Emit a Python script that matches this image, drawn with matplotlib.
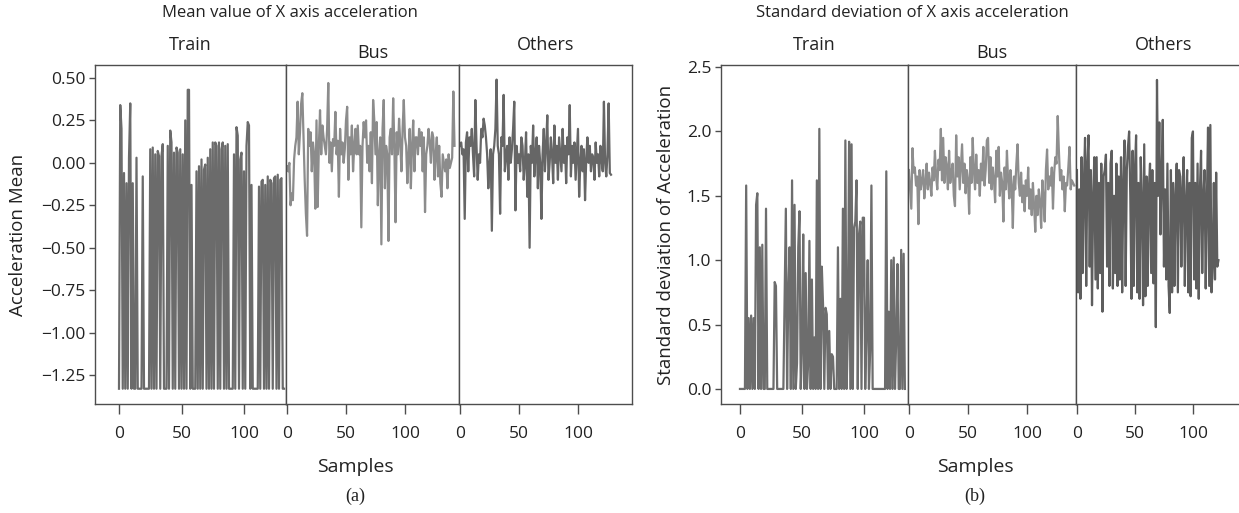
import numpy as np
import matplotlib
matplotlib.use("Agg")
import matplotlib.pyplot as plt

# ------------------------------
# Data
# ------------------------------
groups = ["Train", "Bus", "Others"]
x_ticks = [0, 50, 100]

# (a) mean value of X axis acceleration
train_mean = [
    -1.33, 0.34, 0.20, -1.33, -0.06, -1.33, -0.12, -1.33, 0.03, 0.35,
    -1.33, -0.12, -1.33, -1.33, 0.03, -1.33, -1.33, -1.33, -1.33, -0.08,
    -1.33, -1.33, -1.33, -1.33, -1.33, 0.08, -1.33, 0.09, -1.33, 0.05,
    -1.33, 0.07, 0.04, -1.33, 0.04, 0.11, -1.33, -1.33, -1.33, 0.10,
    -1.33, 0.19, 0.12, -1.33, 0.06, -1.33, 0.09, 0.06, -1.33, 0.08,
    -1.33, 0.05, -1.33, 0.25, -1.33, 0.43, 0.43, -1.33, -0.13, -1.33,
    -1.33, -1.33, -0.05, -1.33, -0.02, -1.33, 0.02, -1.33, -0.04, -0.01,
    -1.33, 0.03, -1.33, 0.08, -1.33, 0.12, -1.33, 0.12, 0.10, -1.33,
    0.12, -1.33, 0.08, 0.12, -1.33, 0.10, -1.33, 0.11, -1.33, -1.33,
    -1.33, -1.33, 0.05, -1.33, 0.21, 0.16, -1.33, 0.02, 0.06, -1.33,
    -0.05, -1.33, 0.10, 0.24, 0.22, -1.33, -0.13, -1.33, -1.33, -1.33,
    -1.33, -1.33, -0.14, -1.33, -0.11, -0.10, -1.33, -0.13, -1.33, -0.08,
    -1.33, -0.10, -0.12, -1.33, -0.09, -0.08, -1.33, -0.07, -1.33, -0.10,
    -0.09, -1.33, -1.33,
]
bus_mean = [
    -0.02, -0.05, 0.00, -0.25, -0.18, -0.22, 0.02, 0.10, 0.15, 0.36,
    0.05, 0.18, 0.35, 0.41, 0.15, -0.10, -0.30, -0.43, 0.20, 0.10,
    0.18, -0.05, 0.12, 0.05, -0.27, 0.25, -0.26, 0.10, 0.31, 0.05,
    0.22, 0.15, 0.10, 0.05, 0.20, 0.47, 0.00, 0.12, -0.05, 0.14,
    0.10, 0.30, 0.05, 0.13, -0.20, 0.20, 0.05, 0.12, 0.00, 0.08,
    0.25, 0.33, -0.10, 0.15, 0.05, 0.22, -0.05, 0.10, 0.20, 0.05,
    0.22, 0.05, 0.10, -0.38, 0.10, 0.24, 0.15, 0.25, 0.00, 0.10,
    -0.05, 0.18, -0.12, 0.37, 0.25, 0.05, 0.24, -0.25, 0.05, 0.15,
    -0.48, 0.20, 0.37, -0.15, 0.10, 0.05, -0.46, 0.15, 0.20, 0.05,
    0.38, 0.10, -0.35, 0.18, 0.05, 0.26, 0.12, -0.05, 0.20, 0.37,
    0.15, 0.10, -0.12, 0.05, 0.20, -0.15, 0.10, 0.25, -0.05, 0.15,
    0.15, 0.05, 0.20, 0.10, 0.18, -0.05, 0.15, -0.29, 0.05, 0.10,
    0.20, 0.12, 0.00, 0.18, 0.15, -0.10, 0.05, 0.15, -0.08, 0.10,
    -0.12, -0.20, 0.05, 0.00, -0.05, 0.02, -0.15, 0.05, -0.03, 0.00,
    0.03, 0.42, 0.10,
]
others_mean = [
    0.10, 0.12, 0.05, 0.08, -0.33, 0.12, 0.18, -0.05, 0.15, 0.10,
    0.20, 0.05, -0.08, 0.37, 0.10, -0.10, 0.05, 0.00, 0.20, 0.15,
    0.26, 0.22, 0.15, 0.05, -0.15, 0.00, 0.08, -0.40, 0.05, 0.10,
    0.20, 0.49, 0.10, 0.05, -0.30, 0.15, 0.10, 0.40, -0.05, 0.05,
    0.10, -0.10, 0.15, 0.00, 0.08, 0.20, 0.36, -0.28, 0.10, 0.00,
    0.05, -0.05, 0.15, 0.10, -0.10, 0.00, 0.18, -0.20, 0.05, -0.50,
    0.10, 0.00, 0.22, -0.08, 0.05, 0.15, -0.15, 0.10, 0.00, -0.33,
    0.05, 0.20, -0.05, 0.10, 0.28, -0.10, 0.00, 0.15, 0.05, -0.12,
    0.22, 0.00, 0.10, -0.10, 0.15, 0.05, -0.05, 0.20, 0.00, 0.10,
    -0.12, 0.15, 0.05, 0.34, -0.08, 0.10, 0.00, 0.12, -0.10, 0.05,
    0.20, -0.20, 0.00, 0.10, -0.05, 0.08, -0.22, 0.02, 0.15, 0.00,
    0.10, -0.05, 0.05, 0.03, -0.10, 0.12, 0.00, 0.05, -0.08, 0.10,
    0.02, -0.05, 0.36, 0.00, -0.08, 0.05, 0.35, -0.06, -0.07,
]

# (b) standard deviation of X axis acceleration
train_std = [
    0.00, 0.00, 0.00, 0.00, 0.00, 1.58, 0.00, 0.55, 0.00, 0.57,
    0.00, 0.55, 0.00, 1.43, 1.52, 0.00, 1.10, 0.00, 1.12, 0.00,
    0.00, 1.40, 0.00, 0.00, 0.00, 0.00, 0.00, 0.00, 0.83, 0.80,
    0.00, 0.00, 0.00, 0.00, 0.00, 0.00, 0.70, 1.40, 0.00, 0.75,
    1.10, 0.00, 1.62, 0.00, 1.43, 0.00, 0.20, 1.10, 1.38, 0.00,
    0.30, 1.20, 0.00, 0.90, 0.00, 0.20, 1.15, 0.00, 0.85, 0.00,
    0.40, 0.00, 1.62, 0.00, 2.02, 0.00, 0.95, 0.65, 0.00, 0.63,
    0.58, 0.00, 0.45, 0.00, 0.27, 0.25, 0.00, 0.00, 0.00, 1.10,
    0.00, 0.70, 0.00, 1.40, 0.00, 1.93, 0.00, 0.45, 1.92, 0.00,
    1.90, 0.00, 1.25, 1.30, 1.62, 0.00, 1.20, 1.30, 0.00, 1.33,
    1.33, 0.00, 0.45, 1.00, 0.00, 0.30, 1.58, 0.00, 0.00, 0.00,
    0.00, 0.00, 0.00, 0.00, 0.00, 0.00, 0.00, 0.00, 1.69, 0.00,
    0.60, 0.00, 1.00, 0.00, 1.02, 0.00, 0.40, 0.97, 0.00, 0.00,
    1.08, 0.00, 1.05, 0.00,
]
bus_std = [
    1.70, 1.55, 1.40, 1.87, 1.68, 1.72, 1.58, 1.65, 1.28, 1.70,
    1.55, 1.62, 1.70, 1.48, 1.60, 1.75, 1.55, 1.68, 1.60, 1.50,
    1.72, 1.62, 1.85, 1.65, 1.55, 1.78, 1.70, 2.02, 1.62, 1.95,
    1.60, 1.80, 1.73, 1.55, 1.85, 1.60, 1.68, 1.75, 1.50, 1.42,
    1.97, 1.65, 1.80, 1.55, 1.72, 1.90, 1.60, 1.75, 1.52, 1.70,
    1.62, 1.36, 1.80, 1.60, 1.95, 1.70, 1.55, 1.82, 1.60, 1.70,
    1.50, 1.75, 1.62, 1.88, 1.58, 1.70, 1.93, 1.95, 1.60, 1.80,
    1.55, 1.72, 1.62, 1.45, 1.85, 1.65, 1.88, 1.50, 1.68, 1.60,
    1.30, 1.72, 1.55, 1.85, 1.62, 1.48, 1.70, 1.58, 1.25, 1.65,
    1.55, 1.75, 1.90, 1.60, 1.50, 1.68, 1.45, 1.58, 1.38, 1.62,
    1.50, 1.72, 1.40, 1.55, 1.35, 1.60, 1.42, 1.22, 1.50, 1.35,
    1.55, 1.45, 1.25, 1.62, 1.48, 1.30, 1.70, 1.86, 1.55, 1.65,
    1.58, 1.72, 1.40, 1.68, 1.80, 1.75, 2.12, 1.85, 1.62, 1.70,
    1.55, 1.65, 1.38, 1.60, 1.58, 1.72, 1.88, 1.55, 1.62, 1.60,
    1.58,
]
others_std = [
    1.70, 0.75, 1.55, 0.70, 1.80, 0.90, 1.60, 1.95, 0.80, 1.75,
    1.97, 0.95, 1.70, 0.65, 1.50, 1.80, 0.85, 1.80, 0.78, 1.60,
    0.90, 1.75, 0.60, 1.65, 1.70, 1.82, 0.95, 1.60, 0.80, 1.75,
    1.85, 0.78, 1.50, 0.90, 1.75, 0.80, 1.65, 0.85, 1.80, 0.75,
    1.60, 1.93, 0.80, 1.70, 1.88, 2.00, 1.50, 0.70, 1.85, 0.80,
    1.70, 1.97, 0.75, 1.60, 0.70, 1.80, 1.45, 0.65, 1.90, 0.72,
    1.65, 0.80, 1.55, 1.75, 0.90, 1.70, 0.82, 1.60, 0.48, 2.40,
    1.50, 2.07, 1.20, 1.65, 2.09, 0.95, 1.55, 0.85, 1.75, 0.80,
    0.59, 1.70, 0.75, 1.60, 0.80, 1.50, 1.75, 0.75, 1.70, 1.65,
    0.95, 1.55, 1.80, 0.80, 1.45, 1.70, 0.75, 1.60, 0.72, 1.95,
    2.00, 0.85, 1.60, 0.78, 1.75, 0.70, 1.55, 1.85, 0.90, 1.50,
    1.70, 0.78, 1.45, 2.03, 0.80, 2.05, 0.75, 0.95, 1.60, 0.85,
    1.68, 0.95, 1.00,
]

mean_ticks = [0.50, 0.25, 0.00, -0.25, -0.50, -0.75, -1.00, -1.25]
std_ticks = [0.0, 0.5, 1.0, 1.5, 2.0, 2.5]

# ------------------------------
# Layout (pixel boxes of the original figure)
# ------------------------------
W, H = 1239, 513
plt.rcParams['font.family'] = ['Open Sans', 'DejaVu Sans']

FRAME = "#4d4d4d"
TEXT = "#222222"


def px_axes(fig, x0, x1, y0, y1):
    """Axes from pixel edges (top-left origin)."""
    return fig.add_axes([x0 / W, 1 - y1 / H, (x1 - x0) / W, (y1 - y0) / H])


def draw_panel(fig, boxes, xlims, series, ylim, yticks, yfmt, colors,
               title, title_x, ylabel, ylabel_x, label_x, tag):
    y0, y1 = 65, 404
    for i, ((x0, x1), xl, ys) in enumerate(zip(boxes, xlims, series)):
        ax = px_axes(fig, x0, x1, y0, y1)
        ax.plot(np.arange(len(ys)), ys, color=colors[i], linewidth=1.6)
        ax.set_xlim(*xl)
        ax.set_ylim(*ylim)
        ax.set_xticks(x_ticks)
        ax.tick_params(axis="x", length=7, width=1.0, color=FRAME, pad=9,
                       labelsize=12.5, labelcolor=TEXT)
        if i == 0:
            ax.set_yticks(yticks)
            ax.set_yticklabels([yfmt.format(v).replace("-", "\u2212") for v in yticks])
            ax.tick_params(axis="y", length=4, width=1.0, color=FRAME, pad=3,
                           labelsize=12.5, labelcolor=TEXT)
        else:
            ax.set_yticks([])
        for sp in ax.spines.values():
            sp.set_color(FRAME)
            sp.set_linewidth(1.0)
        ax.set_title(groups[i], fontsize=13, color=TEXT,
                     pad=5 if groups[i] == "Bus" else 11)

    fig.text(title_x / W, 1 - 13 / H, title, ha="center", va="center",
             fontsize=12, color=TEXT)
    fig.text(ylabel_x / W, 1 - 235 / H, ylabel, ha="center", va="center",
             rotation=90, fontsize=13.5, color=TEXT)
    fig.text(label_x / W, 1 - 467 / H, "Samples", ha="center", va="center",
             fontsize=14, color=TEXT)
    fig.text(label_x / W, 1 - 496 / H, tag, ha="center", va="center",
             fontsize=13, color=TEXT, family="Liberation Serif")


fig = plt.figure(figsize=(W / 100, H / 100), dpi=100)

draw_panel(
    fig,
    boxes=[(95, 286), (286, 459), (459, 632)],
    xlims=[(-19.2, 133.6), (-0.85, 145.8), (-0.85, 145.8)],
    series=[train_mean, bus_mean, others_mean],
    ylim=(-1.42, 0.576),
    yticks=mean_ticks,
    yfmt="{:.2f}",
    colors=["#6b6b6b", "#8c8c8c", "#666666"],
    title="Mean value of X axis acceleration",
    title_x=290,
    ylabel="Acceleration Mean",
    ylabel_x=18,
    label_x=355,
    tag="(a)",
)

draw_panel(
    fig,
    boxes=[(721, 908), (908, 1076), (1076, 1252)],
    xlims=[(-15.3, 135.5), (-0.8, 141.5), (-0.8, 150.9)],
    series=[train_std, bus_std, others_std],
    ylim=(-0.117, 2.516),
    yticks=std_ticks,
    yfmt="{:.1f}",
    colors=["#6d6d6d", "#8e8e8e", "#5e5e5e"],
    title="Standard deviation of X axis acceleration",
    title_x=912,
    ylabel="Standard deviation of Acceleration",
    ylabel_x=666,
    label_x=975,
    tag="(b)",
)

fig.savefig("out.png", dpi=100)
